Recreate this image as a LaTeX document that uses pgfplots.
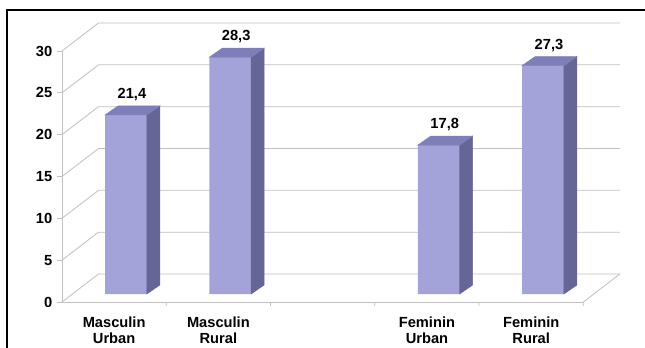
\documentclass[border=0pt]{standalone}
\usepackage{pgfplots}
\pgfplotsset{compat=1.18}
\usepackage{pgfplotstable}
\usepackage{fontspec}
\setmainfont{Liberation Sans}
\definecolor{frontcol}{RGB}{163,163,218}
\definecolor{sidecol}{RGB}{102,102,150}
\definecolor{topcol}{RGB}{126,126,186}
\definecolor{gridcol}{RGB}{192,192,192}
\pgfdeclareplotmark{nothing}{}
\pgfplotstableread{
x v
0 21.4
1 28.3
3 17.8
4 27.3
}\bars
\begin{document}
\begin{tikzpicture}
\useasboundingbox (0,0) rectangle (483.75pt,260.25pt);
\fill[white] (0,0) rectangle (483.75pt,260.25pt);
\draw[line width=1.3pt] (5.5pt,-2pt) -- (5.5pt,252.75pt) -- (486pt,252.75pt);
\begin{axis}[
  at={(46.5pt,33.75pt)}, anchor=south west,
  x=78.2pt, y=6.275pt,
  xmin=-0.5, xmax=4.5, ymin=0, ymax=30,
  clip=false,
  axis lines*=left,
  axis line style={draw=gridcol, line width=0.6pt},
  xtick={0,1,2,3,4},
  xticklabels={{Masculin\\Urban},{Masculin\\Rural},{},{Feminin\\Urban},{Feminin\\Rural}},
  xticklabel style={align=center, yshift=-3.5pt},
  xtick style={draw=none},
  ytick={0,5,...,30},
  ytick style={draw=gridcol, line width=0.6pt},
  tick align=outside,
  major tick length=3.75pt,
  ticklabel style={font=\fontsize{11}{12.6}\selectfont\bfseries},
  /pgf/number format/assume math mode=true,
]
% back wall, left wall and floor lines
\addplot[draw=gridcol, line width=0.6pt, unbounded coords=jump] coordinates {
 (-0.15,3.346) (4.85,3.346) (nan,nan)
 (-0.15,8.346) (4.85,8.346) (nan,nan)
 (-0.15,13.346) (4.85,13.346) (nan,nan)
 (-0.15,18.346) (4.85,18.346) (nan,nan)
 (-0.15,23.346) (4.85,23.346) (nan,nan)
 (-0.15,28.346) (4.85,28.346) (nan,nan)
 (-0.15,33.346) (4.85,33.346) (nan,nan)
 (-0.5,0) (-0.15,3.346) (nan,nan)
 (-0.5,5) (-0.15,8.346) (nan,nan)
 (-0.5,10) (-0.15,13.346) (nan,nan)
 (-0.5,15) (-0.15,18.346) (nan,nan)
 (-0.5,20) (-0.15,23.346) (nan,nan)
 (-0.5,25) (-0.15,28.346) (nan,nan)
 (-0.5,30) (-0.15,33.346) (nan,nan)
 (4.5,0) (4.85,3.346) (nan,nan)
 (0.5,0) (0.5,-0.45) (nan,nan)
 (1.5,0) (1.5,-0.45) (nan,nan)
 (2.5,0) (2.5,-0.45) (nan,nan)
 (3.5,0) (3.5,-0.45) (nan,nan)
 (4.5,0) (4.5,-0.45)
};
% front faces with value labels
\addplot[ybar, bar width=0.4, bar shift=0pt, fill=frontcol, draw=none,
  xshift=8.85pt, yshift=6pt,
  nodes near coords={\pgfmathprintnumber[fixed,fixed zerofill,precision=1,use comma]{\pgfplotspointmeta}},
  every node near coord/.append style={font=\fontsize{11}{13}\selectfont\bfseries, text=black, xshift=4.5pt, yshift=7pt},
  ] table[x=x,y=v]{\bars};
% side and top faces
\addplot[scatter, only marks, mark=nothing, xshift=8.85pt, yshift=6pt,
  visualization depends on={\thisrow{v} \as \val},
  scatter/@pre marker code/.code={
    \fill[sidecol] (15.64pt,0pt) -- (25.39pt,6.75pt) -- ++(0pt,-\val*6.275pt) -- ++(-9.75pt,-6.75pt) -- cycle;
    \fill[topcol] (-15.64pt,0pt) -- (15.64pt,0pt) -- (25.39pt,6.75pt) -- (-5.89pt,6.75pt) -- cycle;
  },
  scatter/@post marker code/.code={},
] table[x=x,y=v]{\bars};
\end{axis}
\end{tikzpicture}
\end{document}
